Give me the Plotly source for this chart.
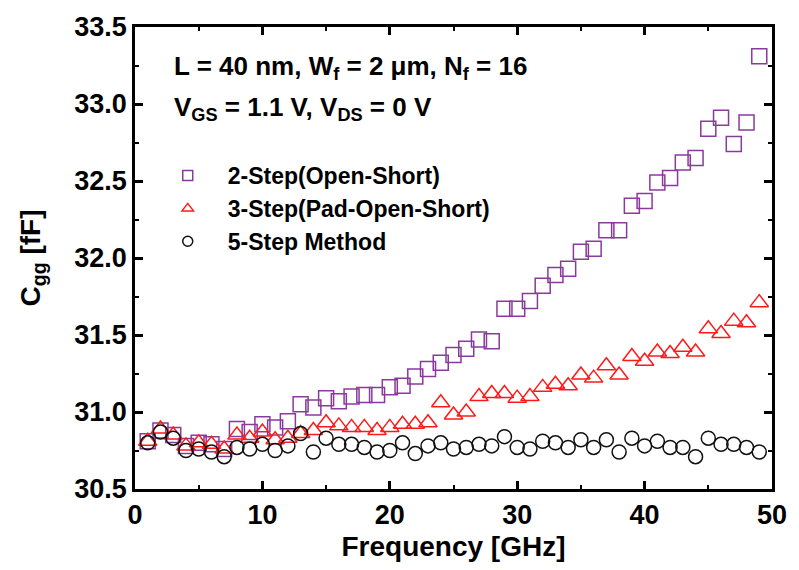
import plotly.graph_objects as go

freq = list(range(1, 50))
two_step = [30.81, 30.88, 30.85, 30.78, 30.80, 30.79, 30.76, 30.89, 30.87, 30.92,
            30.90, 30.94, 31.05, 31.03, 31.09, 31.07, 31.10, 31.11, 31.11, 31.16,
            31.17, 31.23, 31.28, 31.32, 31.37, 31.41, 31.47, 31.46, 31.67, 31.67,
            31.72, 31.82, 31.89, 31.93, 32.04, 32.06, 32.18, 32.18, 32.34, 32.37,
            32.49, 32.52, 32.62, 32.65, 32.84, 32.91, 32.74, 32.88, 33.31]
three_step = [30.81, 30.89, 30.85, 30.78, 30.80, 30.79, 30.76, 30.85, 30.83, 30.87,
              30.82, 30.83, 30.86, 30.88, 30.93, 30.91, 30.90, 30.90, 30.88, 30.90,
              30.92, 30.92, 30.93, 31.06, 30.98, 31.00, 31.10, 31.12, 31.12, 31.09,
              31.10, 31.16, 31.18, 31.17, 31.24, 31.22, 31.30, 31.24, 31.36, 31.33,
              31.39, 31.38, 31.42, 31.39, 31.54, 31.51, 31.59, 31.58, 31.71]
five_step = [30.80, 30.87, 30.83, 30.75, 30.76, 30.74, 30.71, 30.77, 30.76, 30.79,
             30.75, 30.78, 30.86, 30.74, 30.83, 30.79, 30.79, 30.77, 30.74, 30.75,
             30.80, 30.73, 30.78, 30.80, 30.76, 30.77, 30.79, 30.78, 30.84, 30.77,
             30.76, 30.81, 30.80, 30.77, 30.82, 30.77, 30.82, 30.74, 30.83, 30.78,
             30.81, 30.77, 30.77, 30.71, 30.83, 30.79, 30.79, 30.77, 30.74]

names = ["2-Step(Open-Short)", "3-Step(Pad-Open-Short)", "5-Step Method"]
colors = ["#8A3A9C", "#FF1A1A", "#111111"]
symbols = ["square-open", "triangle-up-open", "circle-open"]
sizes = [15, 16, 14]
series = [two_step, three_step, five_step]

FONT = "Liberation Sans, Arial, sans-serif"

fig = go.Figure()
for name, col, sym, sz, ys in zip(names, colors, symbols, sizes, series):
    fig.add_trace(go.Scatter(
        x=freq, y=ys, mode="markers", name=name, showlegend=False,
        marker=dict(symbol=sym, size=sz, color=col, line=dict(width=1.5, color=col)),
    ))
# legend-only entries with smaller symbols
for name, col, sym in zip(names, colors, symbols):
    fig.add_trace(go.Scatter(
        x=[None], y=[None], mode="markers", name=name, showlegend=True,
        marker=dict(symbol=sym, size=10, color=col, line=dict(width=1.5, color=col)),
    ))

axis_common = dict(
    showline=True, linecolor="black", linewidth=2.5, mirror="ticks",
    ticks="inside", ticklen=8, tickwidth=2.5, tickcolor="black",
    showgrid=False, zeroline=False,
    tickfont=dict(family=FONT, size=27, color="black", weight="bold"),
)

fig.update_xaxes(
    range=[0, 50], tickvals=[0, 10, 20, 30, 40, 50],
    minor=dict(ticks="inside", ticklen=4, tickwidth=2, tickcolor="black", dtick=5, tick0=0),
    title=dict(text="Frequency [GHz]", font=dict(family=FONT, size=28, color="black", weight="bold"), standoff=8),
    **axis_common,
)
fig.update_yaxes(
    range=[30.5, 33.5], tickvals=[30.5, 31.0, 31.5, 32.0, 32.5, 33.0, 33.5],
    ticktext=["30.5", "31.0", "31.5", "32.0", "32.5", "33.0", "33.5"],
    minor=dict(ticks="inside", ticklen=4, tickwidth=2, tickcolor="black", dtick=0.25, tick0=30.5),
    title=dict(text="C<sub>gg</sub> [fF]", font=dict(family=FONT, size=28, color="black", weight="bold"), standoff=26),
    **axis_common,
)

fig.add_annotation(
    xref="paper", yref="paper", x=0.058, y=0.913, xanchor="left", yanchor="middle",
    text="L = 40 nm, W<sub>f</sub> = 2 \u03bcm, N<sub>f</sub> = 16", showarrow=False,
    font=dict(family=FONT, size=26, color="black", weight="bold"),
)
fig.add_annotation(
    xref="paper", yref="paper", x=0.058, y=0.823, xanchor="left", yanchor="middle",
    text="V<sub>GS</sub> = 1.1 V, V<sub>DS</sub> = 0 V", showarrow=False,
    font=dict(family=FONT, size=26, color="black", weight="bold"),
)

fig.update_layout(
    width=799, height=570,
    margin=dict(l=135, r=17, t=24, b=76),
    paper_bgcolor="white", plot_bgcolor="white",
    showlegend=True,
    legend=dict(
        x=0.02, y=0.725, xanchor="left", yanchor="top",
        bgcolor="rgba(0,0,0,0)", itemwidth=70,
        font=dict(family=FONT, size=23, color="black", weight="bold"),
        tracegroupgap=0,
    ),
)

fig.write_html("out.html")
